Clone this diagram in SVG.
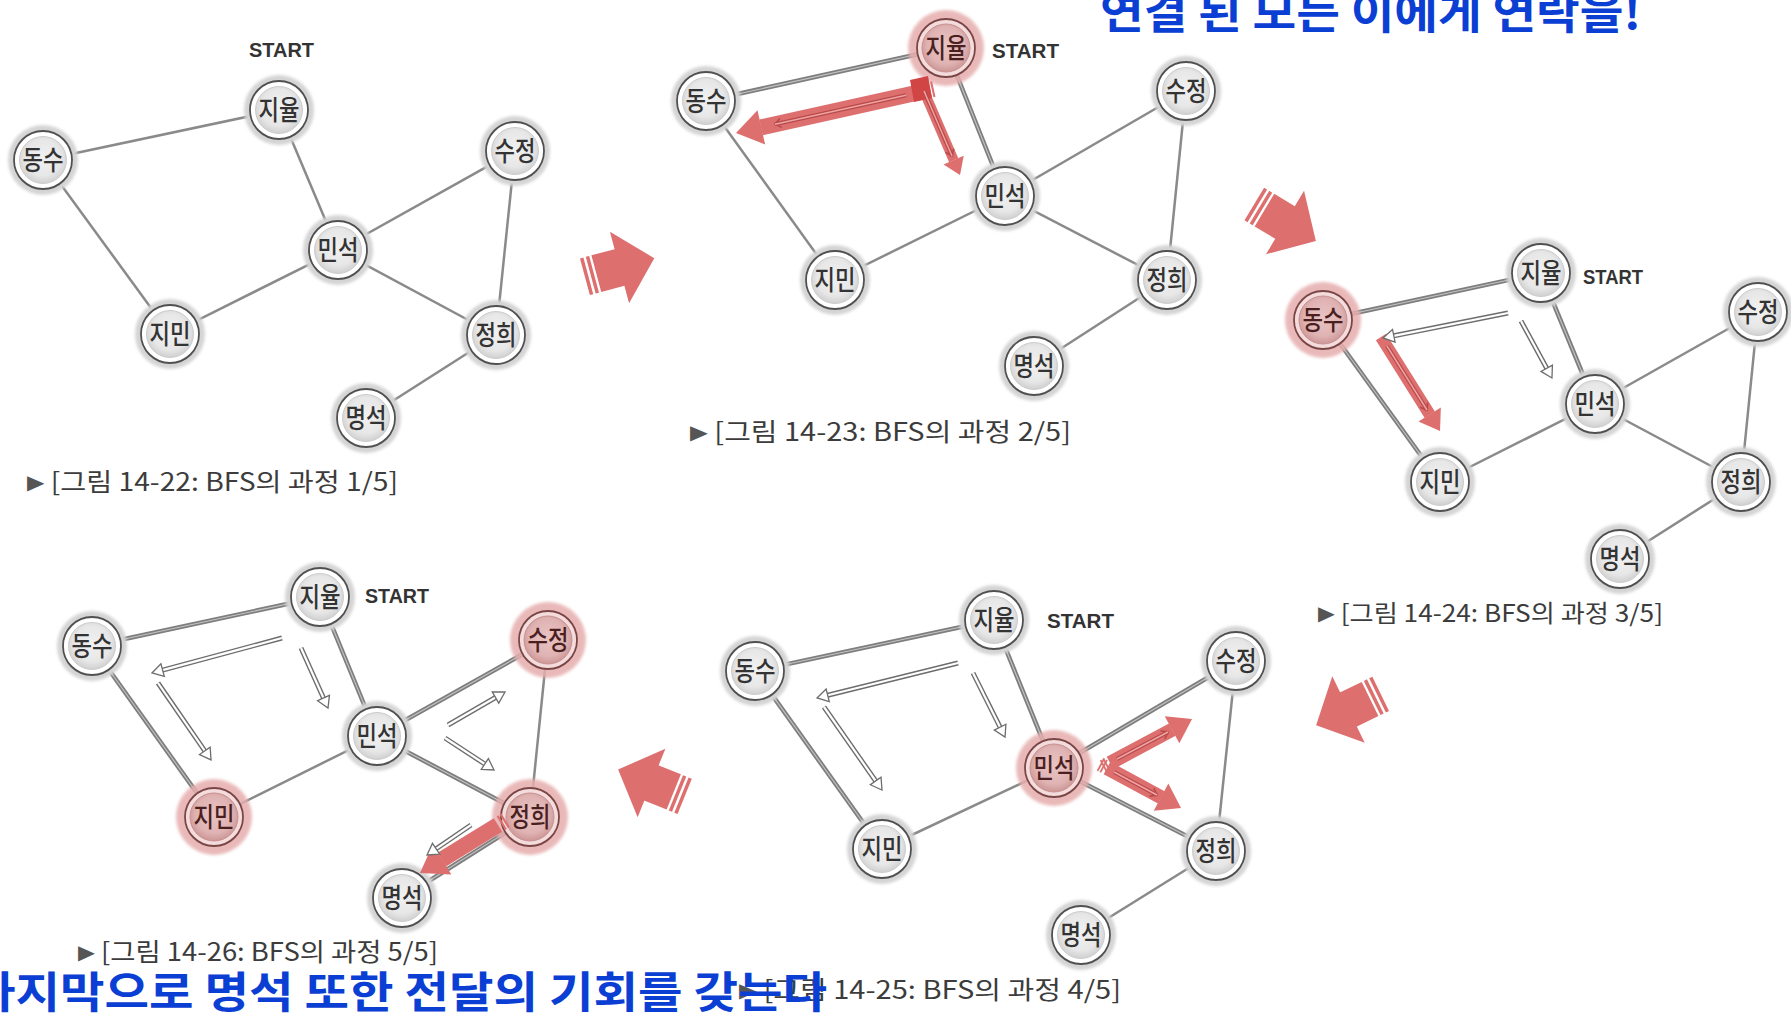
<svg xmlns="http://www.w3.org/2000/svg" width="1791" height="1013" viewBox="0 0 1791 1013">
<style>
.e{stroke:#8a8a8a;stroke-width:2.5;fill:none}
.et{stroke:#7e7e7e;stroke-width:4.6;fill:none}
.ei{stroke:#c4c4c4;stroke-width:1.1;fill:none}
.nt{font-family:"Noto Sans CJK KR","Noto Sans",sans-serif;font-size:27px;font-weight:500;fill:#333;text-anchor:middle}
.ntr{fill:#4a1f1f}
.st{font-family:"Liberation Sans",Arial,sans-serif;font-size:21px;font-weight:700;fill:#333}
.cap{font-family:"Noto Sans CJK KR","Noto Sans",sans-serif;font-size:25px;fill:#3c3c3c}
.tri{font-family:"DejaVu Sans",sans-serif;font-size:20px;fill:#555}
.blue{font-family:"Noto Sans CJK KR",sans-serif;font-weight:700;fill:#0b3fd4}
.ra{stroke:#de6f6f;fill:none}
.ro{stroke:#b94a4a;stroke-width:4;fill:none}
.rin{stroke:#efa3a3;stroke-width:1.5;fill:none}
.ho{stroke:#6d6d6d;stroke-width:5;fill:none}
.hi{stroke:#fff;stroke-width:2.2;fill:none}
.big{fill:#de6f6f}
</style>
<defs>
<filter id="bl" x="-30%" y="-30%" width="160%" height="160%"><feGaussianBlur stdDeviation="1.6"/></filter>
<radialGradient id="gN" cx="0.5" cy="0.45" r="0.55"><stop offset="0" stop-color="#f1f1f1"/><stop offset="0.7" stop-color="#e7e7e7"/><stop offset="1" stop-color="#d0d0d0"/></radialGradient>
<radialGradient id="gR" cx="0.5" cy="0.45" r="0.55"><stop offset="0" stop-color="#e9c3c3"/><stop offset="0.7" stop-color="#e0b3b3"/><stop offset="1" stop-color="#cd9696"/></radialGradient>
<g id="nd">
<circle r="35" fill="#d4d4d4" filter="url(#bl)"/>
<circle r="29" fill="#fff" stroke="#505050" stroke-width="1.8"/>
<circle r="23.5" fill="url(#gN)" stroke="#cdcdcd" stroke-width="1"/>
</g>
<g id="ndr">
<circle r="38" fill="#e6adad" opacity="0.85" filter="url(#bl)"/>
<circle r="29" fill="#f5dcdc" stroke="#7a4545" stroke-width="1.8"/>
<circle r="24" fill="url(#gR)" stroke="#c79191" stroke-width="1"/>
</g>
<g id="ba" class="big">
<rect x="-24" y="-19" width="25" height="38"/>
<rect x="-29.8" y="-19" width="3.5" height="38"/>
<rect x="-35.8" y="-19" width="3.5" height="38"/>
<path d="M0,-37 L36,0 L0,37Z"/>
</g>
<marker id="rh" viewBox="0 -1.2 1.7 2.4" refX="0" refY="0" markerWidth="1.7" markerHeight="2.4" orient="auto" overflow="visible"><path d="M-0.02,-1.1 L1.6,0 L-0.02,1.1Z" fill="#de6f6f"/></marker>
<marker id="rt" viewBox="-1 -0.6 1 1.2" refX="0" refY="0" markerWidth="1" markerHeight="1.2" orient="auto" overflow="visible"><rect x="-0.34" y="-0.5" width="0.13" height="1" fill="#de6f6f"/><rect x="-0.56" y="-0.5" width="0.13" height="1" fill="#de6f6f"/></marker>
<marker id="rc" viewBox="-8 -6 10 12" refX="0" refY="0" markerWidth="10" markerHeight="12" markerUnits="userSpaceOnUse" orient="auto" overflow="visible"><path d="M-6,-4.5 L0,0 L-6,4.5" fill="none" stroke="#b94a4a" stroke-width="1.6"/></marker>
<marker id="hh" viewBox="-1 -8 14 16" refX="0" refY="0" markerWidth="14" markerHeight="16" markerUnits="userSpaceOnUse" orient="auto" overflow="visible"><path d="M0,-6.5 L11,0 L0,6.5Z" fill="#fff" stroke="#6d6d6d" stroke-width="1.3"/></marker>
</defs>

<g id="connectors">
<g id="edges-p1">
<line class="e" x1="279" y1="110" x2="43" y2="160"/>
<line class="e" x1="279" y1="110" x2="338" y2="250"/>
<line class="e" x1="43" y1="160" x2="170" y2="334"/>
<line class="e" x1="170" y1="334" x2="338" y2="250"/>
<line class="e" x1="338" y1="250" x2="515" y2="151"/>
<line class="e" x1="338" y1="250" x2="496" y2="335"/>
<line class="e" x1="515" y1="151" x2="496" y2="335"/>
<line class="e" x1="496" y1="335" x2="366" y2="418"/>
</g>
<g id="edges-p2">
<line class="et" x1="946" y1="48" x2="706" y2="101"/><line class="ei" x1="946" y1="48" x2="706" y2="101"/>
<line class="et" x1="946" y1="48" x2="1005" y2="196"/><line class="ei" x1="946" y1="48" x2="1005" y2="196"/>
<line class="e" x1="706" y1="101" x2="835" y2="280"/>
<line class="e" x1="835" y1="280" x2="1005" y2="196"/>
<line class="e" x1="1005" y1="196" x2="1186" y2="91"/>
<line class="e" x1="1005" y1="196" x2="1167" y2="280"/>
<line class="e" x1="1186" y1="91" x2="1167" y2="280"/>
<line class="e" x1="1167" y1="280" x2="1034" y2="366"/>
</g>
<g id="edges-p3">
<line class="et" x1="1541" y1="273" x2="1323" y2="320"/><line class="ei" x1="1541" y1="273" x2="1323" y2="320"/>
<line class="et" x1="1541" y1="273" x2="1595" y2="404"/><line class="ei" x1="1541" y1="273" x2="1595" y2="404"/>
<line class="et" x1="1323" y1="320" x2="1440" y2="482"/><line class="ei" x1="1323" y1="320" x2="1440" y2="482"/>
<line class="e" x1="1440" y1="482" x2="1595" y2="404"/>
<line class="e" x1="1595" y1="404" x2="1758" y2="312"/>
<line class="e" x1="1595" y1="404" x2="1741" y2="482"/>
<line class="e" x1="1758" y1="312" x2="1741" y2="482"/>
<line class="e" x1="1741" y1="482" x2="1620" y2="559"/>
</g>
<g id="edges-p4">
<line class="et" x1="994" y1="620" x2="755" y2="671"/><line class="ei" x1="994" y1="620" x2="755" y2="671"/>
<line class="et" x1="994" y1="620" x2="1054" y2="768"/><line class="ei" x1="994" y1="620" x2="1054" y2="768"/>
<line class="et" x1="755" y1="671" x2="882" y2="849"/><line class="ei" x1="755" y1="671" x2="882" y2="849"/>
<line class="et" x1="1054" y1="768" x2="1236" y2="661"/><line class="ei" x1="1054" y1="768" x2="1236" y2="661"/>
<line class="et" x1="1054" y1="768" x2="1216" y2="851"/><line class="ei" x1="1054" y1="768" x2="1216" y2="851"/>
<line class="e" x1="882" y1="849" x2="1054" y2="768"/>
<line class="e" x1="1236" y1="661" x2="1216" y2="851"/>
<line class="e" x1="1216" y1="851" x2="1081" y2="935"/>
</g>
<g id="edges-p5">
<line class="et" x1="320" y1="597" x2="92" y2="646"/><line class="ei" x1="320" y1="597" x2="92" y2="646"/>
<line class="et" x1="320" y1="597" x2="377" y2="736"/><line class="ei" x1="320" y1="597" x2="377" y2="736"/>
<line class="et" x1="92" y1="646" x2="214" y2="817"/><line class="ei" x1="92" y1="646" x2="214" y2="817"/>
<line class="et" x1="377" y1="736" x2="548" y2="640"/><line class="ei" x1="377" y1="736" x2="548" y2="640"/>
<line class="et" x1="377" y1="736" x2="530" y2="817"/><line class="ei" x1="377" y1="736" x2="530" y2="817"/>
<line class="et" x1="530" y1="817" x2="402" y2="898"/><line class="ei" x1="530" y1="817" x2="402" y2="898"/>
<line class="e" x1="214" y1="817" x2="377" y2="736"/>
<line class="e" x1="548" y1="640" x2="530" y2="817"/>
</g>
</g>

<g id="nodes">
<g id="p1-jiyul" transform="translate(279,110)"><use href="#nd"/><text class="nt" y="10" textLength="41" lengthAdjust="spacingAndGlyphs">지율</text></g>
<g id="p1-dongsu" transform="translate(43,160)"><use href="#nd"/><text class="nt" y="10" textLength="41" lengthAdjust="spacingAndGlyphs">동수</text></g>
<g id="p1-sujeong" transform="translate(515,151)"><use href="#nd"/><text class="nt" y="10" textLength="41" lengthAdjust="spacingAndGlyphs">수정</text></g>
<g id="p1-minseok" transform="translate(338,250)"><use href="#nd"/><text class="nt" y="10" textLength="41" lengthAdjust="spacingAndGlyphs">민석</text></g>
<g id="p1-jimin" transform="translate(170,334)"><use href="#nd"/><text class="nt" y="10" textLength="41" lengthAdjust="spacingAndGlyphs">지민</text></g>
<g id="p1-jeonghui" transform="translate(496,335)"><use href="#nd"/><text class="nt" y="10" textLength="41" lengthAdjust="spacingAndGlyphs">정희</text></g>
<g id="p1-myeongseok" transform="translate(366,418)"><use href="#nd"/><text class="nt" y="10" textLength="41" lengthAdjust="spacingAndGlyphs">명석</text></g>

<g id="p2-jiyul" transform="translate(946,48)"><use href="#ndr"/><text class="nt ntr" y="10" textLength="41" lengthAdjust="spacingAndGlyphs">지율</text></g>
<g id="p2-dongsu" transform="translate(706,101)"><use href="#nd"/><text class="nt" y="10" textLength="41" lengthAdjust="spacingAndGlyphs">동수</text></g>
<g id="p2-sujeong" transform="translate(1186,91)"><use href="#nd"/><text class="nt" y="10" textLength="41" lengthAdjust="spacingAndGlyphs">수정</text></g>
<g id="p2-minseok" transform="translate(1005,196)"><use href="#nd"/><text class="nt" y="10" textLength="41" lengthAdjust="spacingAndGlyphs">민석</text></g>
<g id="p2-jimin" transform="translate(835,280)"><use href="#nd"/><text class="nt" y="10" textLength="41" lengthAdjust="spacingAndGlyphs">지민</text></g>
<g id="p2-jeonghui" transform="translate(1167,280)"><use href="#nd"/><text class="nt" y="10" textLength="41" lengthAdjust="spacingAndGlyphs">정희</text></g>
<g id="p2-myeongseok" transform="translate(1034,366)"><use href="#nd"/><text class="nt" y="10" textLength="41" lengthAdjust="spacingAndGlyphs">명석</text></g>

<g id="p3-jiyul" transform="translate(1541,273)"><use href="#nd"/><text class="nt" y="10" textLength="41" lengthAdjust="spacingAndGlyphs">지율</text></g>
<g id="p3-dongsu" transform="translate(1323,320)"><use href="#ndr"/><text class="nt ntr" y="10" textLength="41" lengthAdjust="spacingAndGlyphs">동수</text></g>
<g id="p3-sujeong" transform="translate(1758,312)"><use href="#nd"/><text class="nt" y="10" textLength="41" lengthAdjust="spacingAndGlyphs">수정</text></g>
<g id="p3-minseok" transform="translate(1595,404)"><use href="#nd"/><text class="nt" y="10" textLength="41" lengthAdjust="spacingAndGlyphs">민석</text></g>
<g id="p3-jimin" transform="translate(1440,482)"><use href="#nd"/><text class="nt" y="10" textLength="41" lengthAdjust="spacingAndGlyphs">지민</text></g>
<g id="p3-jeonghui" transform="translate(1741,482)"><use href="#nd"/><text class="nt" y="10" textLength="41" lengthAdjust="spacingAndGlyphs">정희</text></g>
<g id="p3-myeongseok" transform="translate(1620,559)"><use href="#nd"/><text class="nt" y="10" textLength="41" lengthAdjust="spacingAndGlyphs">명석</text></g>

<g id="p4-jiyul" transform="translate(994,620)"><use href="#nd"/><text class="nt" y="10" textLength="41" lengthAdjust="spacingAndGlyphs">지율</text></g>
<g id="p4-dongsu" transform="translate(755,671)"><use href="#nd"/><text class="nt" y="10" textLength="41" lengthAdjust="spacingAndGlyphs">동수</text></g>
<g id="p4-sujeong" transform="translate(1236,661)"><use href="#nd"/><text class="nt" y="10" textLength="41" lengthAdjust="spacingAndGlyphs">수정</text></g>
<g id="p4-minseok" transform="translate(1054,768)"><use href="#ndr"/><text class="nt ntr" y="10" textLength="41" lengthAdjust="spacingAndGlyphs">민석</text></g>
<g id="p4-jimin" transform="translate(882,849)"><use href="#nd"/><text class="nt" y="10" textLength="41" lengthAdjust="spacingAndGlyphs">지민</text></g>
<g id="p4-jeonghui" transform="translate(1216,851)"><use href="#nd"/><text class="nt" y="10" textLength="41" lengthAdjust="spacingAndGlyphs">정희</text></g>
<g id="p4-myeongseok" transform="translate(1081,935)"><use href="#nd"/><text class="nt" y="10" textLength="41" lengthAdjust="spacingAndGlyphs">명석</text></g>

<g id="p5-jiyul" transform="translate(320,597)"><use href="#nd"/><text class="nt" y="10" textLength="41" lengthAdjust="spacingAndGlyphs">지율</text></g>
<g id="p5-dongsu" transform="translate(92,646)"><use href="#nd"/><text class="nt" y="10" textLength="41" lengthAdjust="spacingAndGlyphs">동수</text></g>
<g id="p5-sujeong" transform="translate(548,640)"><use href="#ndr"/><text class="nt ntr" y="10" textLength="41" lengthAdjust="spacingAndGlyphs">수정</text></g>
<g id="p5-minseok" transform="translate(377,736)"><use href="#nd"/><text class="nt" y="10" textLength="41" lengthAdjust="spacingAndGlyphs">민석</text></g>
<g id="p5-jimin" transform="translate(214,817)"><use href="#ndr"/><text class="nt ntr" y="10" textLength="41" lengthAdjust="spacingAndGlyphs">지민</text></g>
<g id="p5-jeonghui" transform="translate(530,817)"><use href="#ndr"/><text class="nt ntr" y="10" textLength="41" lengthAdjust="spacingAndGlyphs">정희</text></g>
<g id="p5-myeongseok" transform="translate(402,898)"><use href="#nd"/><text class="nt" y="10" textLength="41" lengthAdjust="spacingAndGlyphs">명석</text></g>
</g>

<g id="traversal">
<path class="ra" stroke-width="16" d="M925,91 L761,127.4" marker-end="url(#rh)" marker-start="url(#rt)"/>
<path class="ra" stroke-width="10" d="M920,82 L953.7,160.3" marker-end="url(#rh)"/>
<polygon points="910,80 928,76 932,98 914,102" fill="#d24545"/>
<path class="ro" d="M906,95.2 L775,124.3" marker-end="url(#rc)"/><path class="rin" d="M906,95.2 L775,124.3"/>
<path class="ro" d="M924,91 L952,156" marker-end="url(#rc)"/><path class="rin" d="M924,91 L952,156"/>
<path class="ra" stroke-width="12" d="M1381,337 L1429.8,414.7" marker-end="url(#rh)"/>
<path class="ro" d="M1387,346 L1427,410" marker-end="url(#rc)"/><path class="rin" d="M1387,346 L1427,410"/>
<path class="ho" d="M1508,313 L1393.8,335.8"/><path class="hi" d="M1508,313 L1393.8,335.8" marker-end="url(#hh)"/>
<path class="ho" d="M1521,321 L1546.7,368.3"/><path class="hi" d="M1521,321 L1546.7,368.3" marker-end="url(#hh)"/>
<path class="ra" stroke-width="14" d="M1110,763 L1172.3,729.6" marker-end="url(#rh)" marker-start="url(#rt)"/>
<path class="ra" stroke-width="14" d="M1107,768 L1161.3,797.3" marker-end="url(#rh)" marker-start="url(#rt)"/>
<path class="ro" d="M1117,759 L1168,732" marker-end="url(#rc)"/><path class="rin" d="M1117,759 L1168,732"/>
<path class="ro" d="M1114,772 L1157,795" marker-end="url(#rc)"/><path class="rin" d="M1114,772 L1157,795"/>
<path class="ho" d="M958,663 L827.7,695.3"/><path class="hi" d="M958,663 L827.7,695.3" marker-end="url(#hh)"/>
<path class="ho" d="M973,673 L1000.1,727.2"/><path class="hi" d="M973,673 L1000.1,727.2" marker-end="url(#hh)"/>
<path class="ho" d="M824,707 L875.7,781"/><path class="hi" d="M824,707 L875.7,781" marker-end="url(#hh)"/>
<path class="ra" stroke-width="16" d="M498,825 L441.8,859.6" marker-end="url(#rh)" marker-start="url(#rt)"/>
<path class="ho" d="M282,638 L162.6,670.1"/><path class="hi" d="M282,638 L162.6,670.1" marker-end="url(#hh)"/>
<path class="ho" d="M301,648 L323.5,698"/><path class="hi" d="M301,648 L323.5,698" marker-end="url(#hh)"/>
<path class="ho" d="M158,683 L204.8,750.9"/><path class="hi" d="M158,683 L204.8,750.9" marker-end="url(#hh)"/>
<path class="ho" d="M448,725 L495.5,697.5"/><path class="hi" d="M448,725 L495.5,697.5" marker-end="url(#hh)"/>
<path class="ho" d="M445,738 L484.8,764"/><path class="hi" d="M445,738 L484.8,764" marker-end="url(#hh)"/>
<path class="ho" d="M471,825 L436.1,848.8"/><path class="hi" d="M471,825 L436.1,848.8" marker-end="url(#hh)"/>
</g>

<g id="labels">
<text class="st" x="249" y="57" textLength="65" lengthAdjust="spacingAndGlyphs">START</text>
<text class="st" x="992" y="58" textLength="67" lengthAdjust="spacingAndGlyphs">START</text>
<text class="st" x="1583" y="284" textLength="60" lengthAdjust="spacingAndGlyphs">START</text>
<text class="st" x="1047" y="628" textLength="67" lengthAdjust="spacingAndGlyphs">START</text>
<text class="st" x="365" y="603" textLength="64" lengthAdjust="spacingAndGlyphs">START</text>
<text class="cap" x="27" y="491" textLength="371" lengthAdjust="spacingAndGlyphs"><tspan class="tri" dy="-2">▶</tspan><tspan dy="2"> [그림 14-22: BFS의 과정 1/5]</tspan></text>
<text class="cap" x="690" y="441" textLength="381" lengthAdjust="spacingAndGlyphs"><tspan class="tri" dy="-2">▶</tspan><tspan dy="2"> [그림 14-23: BFS의 과정 2/5]</tspan></text>
<text class="cap" x="1318" y="622" textLength="345" lengthAdjust="spacingAndGlyphs" style="font-size:24px"><tspan class="tri" dy="-2">▶</tspan><tspan dy="2"> [그림 14-24: BFS의 과정 3/5]</tspan></text>
<text class="cap" x="739" y="999" textLength="382" lengthAdjust="spacingAndGlyphs"><tspan class="tri" dy="-2">▶</tspan><tspan dy="2"> [그림 14-25: BFS의 과정 4/5]</tspan></text>
<text class="cap" x="78" y="961" textLength="360" lengthAdjust="spacingAndGlyphs"><tspan class="tri" dy="-2">▶</tspan><tspan dy="2"> [그림 14-26: BFS의 과정 5/5]</tspan></text>
</g>

<g id="step-arrows">
<use href="#ba" transform="translate(619.5,267.5) rotate(-15)"/>
<use href="#ba" transform="translate(1285,222.5) rotate(31)"/>
<use href="#ba" transform="translate(1348.5,709.5) rotate(154)"/>
<use href="#ba" transform="translate(651.5,783) rotate(202)"/>
</g>

<g id="titles">
<text class="blue" x="1100" y="29" font-size="44" textLength="541" lengthAdjust="spacingAndGlyphs">연결 된 모든 이에게 연락을!</text>
<text class="blue" x="-29" y="1008" font-size="43" textLength="856" lengthAdjust="spacingAndGlyphs">마지막으로 명석 또한 전달의 기회를 갖는다</text>
</g>
</svg>
